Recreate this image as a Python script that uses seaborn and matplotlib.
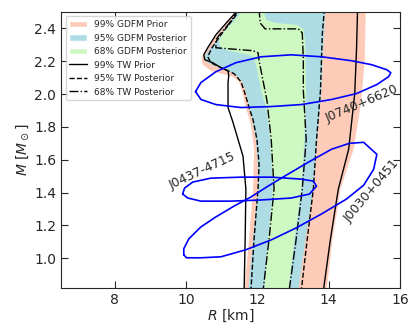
import numpy as np
import matplotlib
matplotlib.use("Agg")
import matplotlib.pyplot as plt
import seaborn as sns
from matplotlib.patches import Patch
from matplotlib.lines import Line2D

sns.set_style("ticks")
plt.rcParams['font.family'] = ['DejaVu Sans']

# ---- GDFM bands (left / right edges, R in km vs M in Msun) ----
pink_left_M = [2.52, 2.421, 2.330, 2.270, 2.221, 2.179, 2.142, 2.124, 2.106, 2.076, 2.021, 1.918, 1.815, 1.664, 1.421, 1.118, 0.80]
pink_left_R = [11.46, 11.12, 10.75, 10.56, 10.44, 10.47, 10.70, 10.98, 11.32, 11.49, 11.57, 11.68, 11.82, 11.91, 11.88, 11.77, 11.63]
pink_right_M = [2.52, 2.209, 1.967, 1.664, 1.421, 1.118, 0.80]
pink_right_R = [15.04, 15.01, 14.92, 14.70, 14.33, 14.11, 13.94]

blue_left_M = [2.52, 2.427, 2.330, 2.258, 2.227, 2.197, 2.173, 2.148, 2.124, 2.088, 2.021, 1.918, 1.845, 1.724, 1.542, 1.421, 1.118, 0.80]
blue_left_R = [11.51, 11.20, 10.87, 10.61, 10.53, 10.56, 10.78, 11.12, 11.35, 11.54, 11.68, 11.77, 11.85, 11.96, 12.02, 12.02, 11.88, 11.74]
blue_right_M = [2.52, 2.270, 2.021, 1.724, 1.421, 1.118, 0.80]
blue_right_R = [13.91, 13.85, 13.80, 13.68, 13.57, 13.35, 13.15]

green_left_M = [2.52, 2.439, 2.379, 2.318, 2.282, 2.264, 2.239, 2.221, 2.179, 2.118, 2.021, 1.918, 1.724, 1.421, 1.118, 0.80]
green_left_R = [11.62, 11.32, 11.06, 10.92, 10.98, 11.20, 11.77, 11.91, 11.96, 12.02, 12.11, 12.25, 12.36, 12.44, 12.30, 12.19]
green_right_M = [2.52, 2.452, 2.433, 2.421, 2.397, 2.300, 2.021, 1.724, 1.421, 1.118, 0.80]
green_right_R = [12.16, 12.25, 12.53, 13.12, 13.29, 13.35, 13.37, 13.32, 13.23, 13.04, 12.87]

# ---- TW contours ----
tw99_left_M = [2.52, 2.445, 2.361, 2.282, 2.239, 2.209, 2.191, 2.161, 2.142, 2.112, 2.070, 1.997, 1.918, 1.827, 1.724, 1.621, 1.421, 1.118, 0.80]
tw99_left_R = [11.49, 11.18, 10.84, 10.61, 10.50, 10.53, 10.75, 10.98, 11.18, 11.20, 11.18, 11.18, 11.18, 11.32, 11.46, 11.60, 11.68, 11.66, 11.63]
tw99_right_M = [2.52, 2.270, 2.003, 1.664, 1.421, 1.118, 0.80]
tw99_right_R = [14.81, 14.78, 14.73, 14.56, 14.27, 14.05, 13.85]

tw95_left_M = [2.52, 2.439, 2.361, 2.282, 2.227, 2.191, 2.155, 2.124, 2.076, 2.021, 1.918, 1.845, 1.724, 1.573, 1.421, 1.118, 0.80]
tw95_left_R = [11.54, 11.26, 10.98, 10.73, 10.61, 10.70, 11.04, 11.35, 11.54, 11.63, 11.77, 11.88, 11.99, 12.05, 12.02, 11.91, 11.82]
tw95_right_M = [2.52, 2.361, 2.021, 1.724, 1.421, 1.118, 0.80]
tw95_right_R = [13.88, 13.82, 13.77, 13.66, 13.57, 13.40, 13.23]

tw68_left_M = [2.52, 2.427, 2.355, 2.330, 2.282, 2.264, 2.252, 2.203, 2.082, 1.961, 1.724, 1.421, 1.118, 0.80]
tw68_left_R = [11.49, 11.20, 10.92, 10.84, 10.84, 11.88, 12.02, 12.05, 12.16, 12.27, 12.39, 12.47, 12.33, 12.16]
tw68_right_M = [2.52, 2.433, 2.397, 2.397, 2.373, 2.209, 2.021, 1.724, 1.421, 1.118, 0.80]
tw68_right_R = [12.05, 12.08, 12.22, 13.15, 13.26, 13.29, 13.29, 13.37, 13.26, 13.09, 12.89]

# ---- pulsar contours ----
j0740_R = [10.27, 10.42, 10.84, 11.54, 12.39, 13.23, 14.08, 14.78, 15.35, 15.68, 15.74, 15.63, 15.20, 14.64, 13.80, 12.95, 12.11, 11.40, 10.84, 10.42, 10.27]
j0740_M = [2.015, 1.967, 1.936, 1.918, 1.924, 1.936, 1.967, 2.003, 2.058, 2.106, 2.130, 2.148, 2.179, 2.203, 2.227, 2.239, 2.227, 2.191, 2.136, 2.070, 2.015]

j0437_R = [9.91, 10.05, 10.42, 11.26, 12.11, 12.95, 13.46, 13.66, 13.57, 13.23, 12.39, 11.54, 10.70, 10.19, 9.96, 9.91]
j0437_M = [1.391, 1.367, 1.348, 1.348, 1.355, 1.367, 1.391, 1.439, 1.470, 1.482, 1.494, 1.494, 1.488, 1.464, 1.427, 1.391]

j0030_R = [9.94, 10.02, 10.42, 10.98, 11.68, 12.39, 13.09, 13.80, 14.50, 14.98, 15.26, 15.35, 14.98, 14.58, 14.08, 13.43, 12.81, 12.30, 11.82, 11.35, 10.84, 10.42, 10.08, 9.94, 9.94]
j0030_M = [1.021, 1.003, 1.003, 1.009, 1.052, 1.112, 1.185, 1.270, 1.361, 1.445, 1.542, 1.633, 1.706, 1.700, 1.664, 1.585, 1.506, 1.439, 1.373, 1.318, 1.252, 1.191, 1.118, 1.058, 1.021]

pink = '#FDCBB7'
lblue = '#ADDCE4'
lgreen = '#CDF8C2'

fig, ax = plt.subplots(figsize=(4.15, 3.32), dpi=100)
fig.subplots_adjust(left=0.147, right=0.964, bottom=0.133, top=0.964)

# filled bands
ax.fill(pink_left_R + pink_right_R[::-1], pink_left_M + pink_right_M[::-1], color=pink, lw=0)
ax.fill(blue_left_R + blue_right_R[::-1], blue_left_M + blue_right_M[::-1], color=lblue, lw=0)
ax.fill(green_left_R + green_right_R[::-1], green_left_M + green_right_M[::-1], color=lgreen, lw=0)

# TW contour edges
for R, M, ls in [(tw99_left_R, tw99_left_M, '-'), (tw99_right_R, tw99_right_M, '-'),
                 (tw95_left_R, tw95_left_M, '--'), (tw95_right_R, tw95_right_M, '--'),
                 (tw68_left_R, tw68_left_M, '-.'), (tw68_right_R, tw68_right_M, '-.')]:
    sns.lineplot(x=R, y=M, sort=False, estimator=None, color='black', lw=1.0,
                 linestyle=ls, ax=ax)

for R, M in [(j0740_R, j0740_M), (j0437_R, j0437_M), (j0030_R, j0030_M)]:
    sns.lineplot(x=R, y=M, sort=False, estimator=None, color='blue', lw=1.2, ax=ax)

ax.text(14.92, 1.94, 'J0740+6620', rotation=23, fontsize=9, ha='center', va='center')
ax.text(10.47, 1.53, 'J0437-4715', rotation=25, fontsize=9, ha='center', va='center')
ax.text(15.2, 1.41, 'J0030+0451', rotation=50, fontsize=9, ha='center', va='center')

ax.set_xlim(6.5, 16)
ax.set_ylim(0.82, 2.5)
ax.set_xticks([8, 10, 12, 14, 16])
ax.set_yticks([1.0, 1.2, 1.4, 1.6, 1.8, 2.0, 2.2, 2.4])
ax.tick_params(direction='in', top=True, right=True, labelsize=10, length=5)
ax.set_xlabel(r'$R$ [km]', fontsize=10, labelpad=1)
ax.set_ylabel(r'$M$ [$M_\odot$]', fontsize=10, labelpad=2)

handles = [Patch(facecolor=pink, label='99% GDFM Prior'),
           Patch(facecolor=lblue, label='95% GDFM Posterior'),
           Patch(facecolor=lgreen, label='68% GDFM Posterior'),
           Line2D([], [], color='black', ls='-', lw=1, label='99% TW Prior'),
           Line2D([], [], color='black', ls='--', lw=1, label='95% TW Posterior'),
           Line2D([], [], color='black', ls='-.', lw=1, label='68% TW Posterior')]
ax.legend(handles=handles, loc='upper left', fontsize=6.5, frameon=True)

fig.savefig('out.png', dpi=100)
